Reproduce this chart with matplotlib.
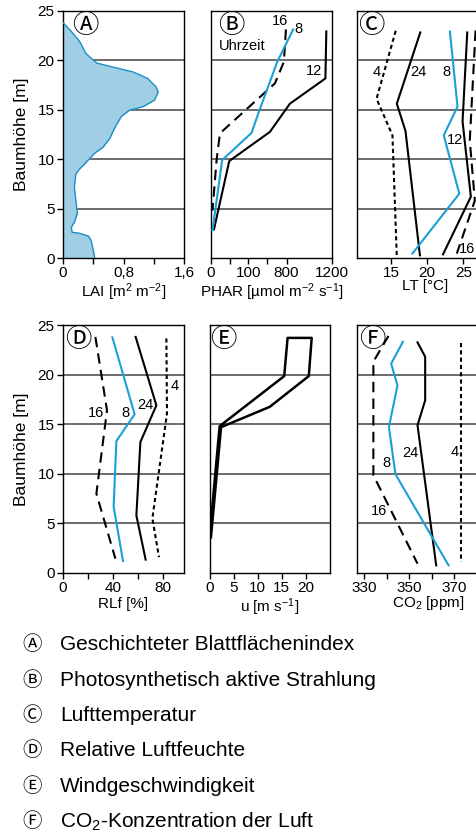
import matplotlib
matplotlib.use("Agg")
import matplotlib.pyplot as plt
import numpy as np

plt.rcParams["font.family"] = ["Liberation Sans", "DejaVu Sans"]
plt.rcParams["mathtext.fontset"] = "custom"
plt.rcParams["mathtext.rm"] = "Liberation Sans"
plt.rcParams["mathtext.it"] = "Liberation Sans:italic"
plt.rcParams["mathtext.default"] = "regular"

BLUE = "#1ba0d6"
FILL = "#9fcee5"
EDGE = "#1a8fc2"
CIRC_FONT = ["Noto Sans CJK JP", "DejaVu Sans"]

# (A) layered leaf area index
lai_x = [0, 0.11, 0.22, 0.30, 0.40, 0.45, 0.66, 0.93, 1.12, 1.23, 1.26, 1.21, 1.06, 0.88,
         0.77, 0.68, 0.62, 0.53, 0.42, 0.31, 0.22, 0.17, 0.15, 0.17, 0.19, 0.15, 0.11, 0.12,
         0.22, 0.34, 0.37, 0.40, 0.42]
lai_h = [23.8, 22.9, 21.9, 20.7, 20.0, 19.7, 19.3, 18.8, 18.15, 17.3, 16.8, 15.96, 15.3, 14.95,
         14.3, 13.1, 12.1, 11.2, 10.6, 9.7, 9.0, 8.5, 7.2, 5.8, 4.5, 3.6, 3.1, 2.6,
         2.5, 2.2, 1.8, 0.8, 0.0]

# (B) PHAR by hour
phar_12_x = [1150, 1142, 829, 496, 49, 8]
phar_12_h = [22.9, 18.15, 15.6, 12.75, 9.8, 2.9]
phar_16_x = [788, 751, 587, 24, 15, 4]
phar_16_h = [23.1, 19.84, 17.65, 12.6, 9.9, 4.8]
phar_8_x = [858, 630, 283, 161, 30, 4]
phar_8_h = [23.1, 19.84, 14.6, 12.65, 9.9, 2.8]
phar_knots = [0, 100, 800, 1200]
phar_pos = [0, 1.0, 2.03, 3.25]

# (C) air temperature
lt_4_x = [15.65, 13.0, 15.2, 15.8]
lt_4_h = [22.97, 16.1, 12.4, 0.1]
lt_24_x = [19.05, 15.8, 17.0, 19.0]
lt_24_h = [22.8, 15.6, 12.85, 0.27]
lt_8_x = [23.15, 24.2, 22.3, 24.45, 17.95]
lt_8_h = [22.9, 15.3, 12.4, 6.5, 0.44]
lt_12_x = [25.55, 24.9, 26.05, 22.2]
lt_12_h = [22.8, 13.8, 6.2, 0.37]
lt_16_x = [26.7, 25.9, 26.6, 24.1]
lt_16_h = [23.0, 11.9, 5.8, 0.44]

# (D) relative humidity
rlf_16_x = [25.9, 35.2, 26.7, 41.9]
rlf_16_h = [23.8, 16.4, 8.0, 1.45]
rlf_8_x = [39.5, 57.3, 42.7, 40.5, 48.0]
rlf_8_h = [23.75, 16.0, 13.3, 6.7, 1.2]
rlf_24_x = [58.1, 74.7, 61.9, 58.7, 66.1]
rlf_24_h = [23.8, 16.9, 13.2, 5.8, 1.35]
rlf_4_x = [82.7, 83.2, 71.5, 76.8]
rlf_4_h = [23.65, 16.1, 5.5, 1.6]

# (E) wind speed
u_x = [0.0, 2.1, 15.5, 16.2, 21.2, 20.6, 12.5, 2.4, 0.3]
u_h = [3.6, 14.8, 19.85, 23.7, 23.7, 19.85, 16.75, 14.7, 3.6]

# (F) CO2
co2_4_x = [373.1, 373.1]
co2_4_h = [23.15, 1.1]
co2_24_x = [353.7, 357.1, 357.1, 353.7, 362.0]
co2_24_h = [23.25, 21.8, 17.4, 14.9, 0.77]
co2_8_x = [347.2, 342.0, 344.8, 341.0, 343.9, 367.5]
co2_8_h = [23.3, 21.1, 18.9, 14.7, 9.96, 0.77]
co2_16_x = [340.8, 334.1, 334.1, 353.7]
co2_16_h = [23.9, 21.3, 9.86, 0.94]

legend_items = [
    ("\u24b6", "Geschichteter Blattflächenindex"),
    ("\u24b7", "Photosynthetisch aktive Strahlung"),
    ("\u24b8", "Lufttemperatur"),
    ("\u24b9", "Relative Luftfeuchte"),
    ("\u24ba", "Windgeschwindigkeit"),
    ("\u24bb", "CO$_2$-Konzentration der Luft"),
]

W, H = 476, 835
fig = plt.figure(figsize=(W / 100, H / 100), dpi=100)


def make_ax(x0, y_top, w, h):
    return fig.add_axes([x0 / W, 1 - (y_top + h) / H, w / W, h / H])


def base(ax, ylabels):
    ax.set_ylim(0, 25)
    for y in [5, 10, 15, 20]:
        ax.axhline(y, color="#444444", lw=1.1, zorder=1)
    for s in ax.spines.values():
        s.set_linewidth(1.0)
    ax.tick_params(axis="x", direction="out", length=4, width=1, labelsize=11, pad=2)
    if ylabels:
        ax.set_yticks([0, 5, 10, 15, 20, 25])
        ax.tick_params(axis="y", direction="out", length=4, width=1, labelsize=11, pad=2)
        ax.set_ylabel("Baumhöhe [m]", fontsize=12.5, labelpad=6)
    else:
        ax.set_yticks([])


def circ(ax, x, y, ch):
    ax.text(x, y, ch, fontsize=19, family=CIRC_FONT, ha="center", va="center", zorder=5)


def lab(ax, x, y, s):
    ax.text(x, y, s, fontsize=10.5, ha="center", va="center", zorder=5)


# --- A
axA = make_ax(63, 10.7, 121, 247.3)
base(axA, True)
axA.fill_betweenx(lai_h, 0, lai_x, color=FILL, lw=0, zorder=2)
axA.plot(lai_x, lai_h, color=EDGE, lw=1.0, zorder=3)
axA.set_xlim(0, 1.6)
axA.set_xticks([0, 0.4, 0.8, 1.2, 1.6])
axA.set_xticklabels(["0", "", "0,8", "", "1,6"])
axA.set_xlabel("LAI [m$^2$ m$^{-2}$]", fontsize=11, labelpad=1)
circ(axA, 0.30, 23.55, "\u24b6")

# --- B
axB = make_ax(211, 10.7, 121, 247.3)
base(axB, False)
axB.set_xscale("function", functions=(lambda v: np.interp(v, phar_knots, phar_pos),
                                      lambda p: np.interp(p, phar_pos, phar_knots)))
axB.set_xlim(0, 1200)
axB.plot(phar_12_x, phar_12_h, color="black", lw=1.5, zorder=3)
axB.plot(phar_16_x, phar_16_h, color="black", lw=1.5, ls=(0, (5, 3)), zorder=3)
axB.plot(phar_8_x, phar_8_h, color=BLUE, lw=1.5, zorder=3)
axB.set_xticks([0, 50, 100, 450, 800, 1200])
axB.set_xticklabels(["0", "", "100", "", "800", "1200"])
axB.set_xlabel("PHAR [µmol m$^{-2}$ s$^{-1}$]", fontsize=11, labelpad=1)
circ(axB, 55, 23.55, "\u24b7")
axB.text(20, 21.4, "Uhrzeit", fontsize=10.5, ha="left", va="center")
lab(axB, 678, 24.0, "16")
lab(axB, 902, 23.1, "8")
lab(axB, 1039, 18.9, "12")

# --- C
axC = make_ax(356.7, 10.7, 125, 247.3)
base(axC, False)
axC.set_xlim(10.25, 27.55)
axC.plot(lt_4_x, lt_4_h, color="black", lw=1.5, ls=(0, (2, 1.5)), zorder=3)
axC.plot(lt_24_x, lt_24_h, color="black", lw=1.5, zorder=3)
axC.plot(lt_8_x, lt_8_h, color=BLUE, lw=1.5, zorder=3)
axC.plot(lt_12_x, lt_12_h, color="black", lw=1.5, zorder=3)
axC.plot(lt_16_x, lt_16_h, color="black", lw=1.5, ls=(0, (5, 3)), zorder=3)
axC.set_xticks([15, 20, 25])
axC.set_xlabel("LT [°C]", fontsize=11, labelpad=1)
axC.xaxis.set_label_coords(0.55, -0.085)
circ(axC, 12.33, 23.55, "\u24b8")
lab(axC, 13.0, 18.8, "4")
lab(axC, 18.8, 18.8, "24")
lab(axC, 22.7, 18.8, "8")
lab(axC, 23.85, 11.9, "12")
lab(axC, 25.55, 0.95, "16")

# --- D
axD = make_ax(63, 325, 121, 248)
base(axD, True)
axD.set_xlim(0, 96.8)
axD.plot(rlf_16_x, rlf_16_h, color="black", lw=1.5, ls=(0, (5, 3)), zorder=3)
axD.plot(rlf_8_x, rlf_8_h, color=BLUE, lw=1.5, zorder=3)
axD.plot(rlf_24_x, rlf_24_h, color="black", lw=1.5, zorder=3)
axD.plot(rlf_4_x, rlf_4_h, color="black", lw=1.5, ls=(0, (2, 1.5)), zorder=3)
axD.set_xticks([0, 20, 40, 60, 80])
axD.set_xticklabels(["0", "", "40", "", "80"])
axD.set_xlabel("RLf [%]", fontsize=11, labelpad=1)
circ(axD, 12, 23.5, "\u24b9")
lab(axD, 26.7, 16.1, "16")
lab(axD, 50.1, 16.1, "8")
lab(axD, 65.9, 16.9, "24")
lab(axD, 89.3, 18.9, "4")

# --- E
axE = make_ax(209.5, 325, 120.5, 248)
base(axE, False)
axE.set_xlim(0, 25)
axE.plot(u_x, u_h, color="black", lw=1.8, zorder=3)
axE.set_xticks([0, 5, 10, 15, 20])
axE.set_xlabel("u [m s$^{-1}$]", fontsize=11, labelpad=1)
circ(axE, 2.8, 23.5, "\u24ba")

# --- F
axF = make_ax(356.7, 325, 125, 248)
base(axF, False)
axF.set_xlim(326.7, 382.2)
axF.plot(co2_4_x, co2_4_h, color="black", lw=1.5, ls=(0, (2, 1.5)), zorder=3)
axF.plot(co2_24_x, co2_24_h, color="black", lw=1.5, zorder=3)
axF.plot(co2_8_x, co2_8_h, color=BLUE, lw=1.5, zorder=3)
axF.plot(co2_16_x, co2_16_h, color="black", lw=1.5, ls=(0, (5, 3)), zorder=3)
axF.set_xticks([330, 340, 350, 360, 370, 380])
axF.set_xticklabels(["330", "", "350", "", "370", ""])
axF.set_xlabel("CO$_2$ [ppm]", fontsize=11, labelpad=1)
axF.xaxis.set_label_coords(0.57, -0.085)
circ(axF, 333.4, 23.5, "\u24bb")
lab(axF, 350.4, 12.05, "24")
lab(axF, 370.0, 12.15, "4")
lab(axF, 339.8, 11.1, "8")
lab(axF, 336.8, 6.26, "16")

# legend text block
for i, (ch, txt) in enumerate(legend_items):
    yc = 645 + i * 35.3
    fig.text(32 / W, 1 - yc / H, ch, fontsize=14, family=CIRC_FONT, ha="center", va="center")
    fig.text(60 / W, 1 - yc / H, txt, fontsize=15, ha="left", va="center")

fig.savefig("out.png", dpi=100)
plt.close(fig)
